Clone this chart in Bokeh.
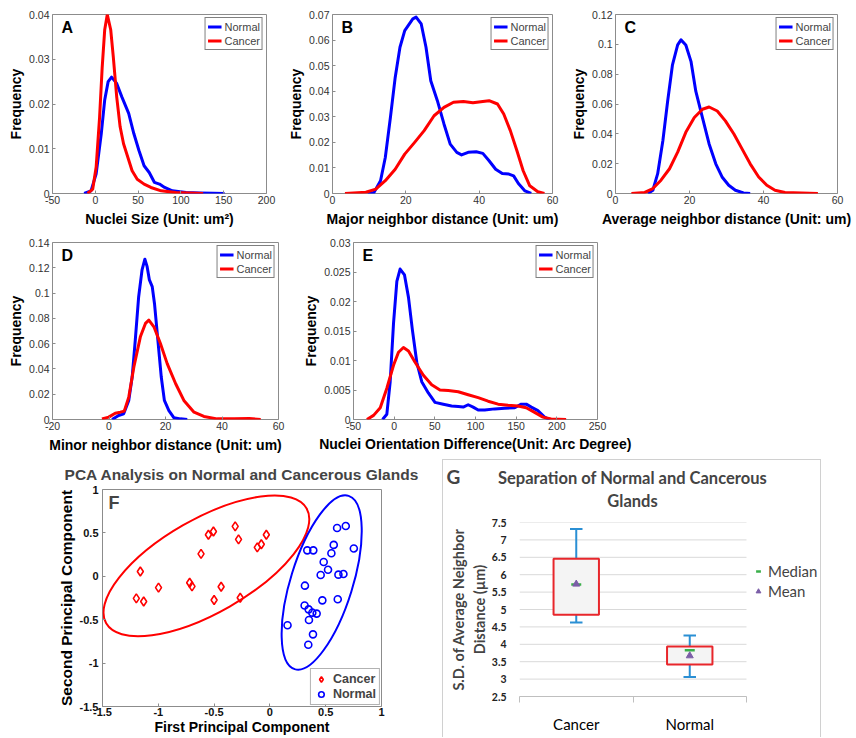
import math
from bokeh.plotting import figure
from bokeh.models import Range1d, FixedTicker, Label, Spacer, Legend, LegendItem
from bokeh.layouts import row, column
from bokeh.embed import file_html
from bokeh.resources import INLINE

# ---------------- data ----------------
A_normal_x = [-13, -5, 1, 7, 11, 15, 19, 25, 31, 39, 45, 51, 57, 63, 69, 75, 81, 90, 106, 122, 138, 151]
A_normal_y = [0, 0.0006, 0.0044, 0.0134, 0.0209, 0.025, 0.026, 0.0246, 0.0216, 0.0179, 0.0134, 0.0096,
              0.0062, 0.0047, 0.0025, 0.0021, 0.00135, 0.0006, 0.0002, 0.0001, 0.00005, 0]
A_cancer_x = [-9, -3, 1, 5, 8, 11, 14, 18, 21, 25, 29, 33, 38, 43, 49, 57, 65, 77, 94, 126]
A_cancer_y = [0, 0.001, 0.0059, 0.017, 0.028, 0.0366, 0.04, 0.0366, 0.0306, 0.0216, 0.0149, 0.0111,
              0.0081, 0.0051, 0.0032, 0.0021, 0.00135, 0.0006, 0.0002, 0]

B_normal_x = [9.6, 11.3, 13.1, 14.4, 15.8, 17.1, 18.4, 19.7, 21.9, 22.8, 24.2, 25.5, 26.8, 28.6, 30.4,
              32.1, 33.9, 35.2, 37, 39.2, 41, 42.7, 44.5, 46.3, 48.1, 49.4, 50.7, 52.5, 54.2]
B_normal_y = [0, 0.0004, 0.005, 0.0141, 0.0298, 0.0454, 0.0572, 0.0637, 0.0683, 0.069, 0.0663, 0.0572,
              0.0441, 0.0363, 0.0272, 0.0193, 0.0161, 0.0151, 0.0161, 0.0163, 0.0157, 0.0128, 0.0095,
              0.0078, 0.0076, 0.0069, 0.0039, 0.001, 0]
B_cancer_x = [3.4, 9.1, 11.8, 14.4, 17.1, 19.7, 22.4, 25, 27.7, 30.4, 33, 35.7, 38.3, 41, 42.7, 45,
              46.7, 48.5, 50.3, 52, 53.8, 56, 57.8]
B_cancer_y = [0, 0.0005, 0.0017, 0.005, 0.0095, 0.0154, 0.02, 0.0246, 0.0304, 0.0337, 0.0357, 0.036,
              0.0355, 0.036, 0.0363, 0.035, 0.0311, 0.0246, 0.0167, 0.0089, 0.003, 0.0007, 0]

C_normal_x = [8.75, 10.1, 11.4, 12.8, 14.1, 15.4, 16.8, 17.7, 19, 20.4, 21.7, 23.5, 25.3, 27.1, 28.8,
              30.6, 32.4, 34.6, 36.4]
C_normal_y = [0, 0.0022, 0.0133, 0.0354, 0.062, 0.0863, 0.0996, 0.103, 0.0996, 0.0886, 0.0686, 0.0509,
              0.0332, 0.0199, 0.0111, 0.0055, 0.0022, 0.0004, 0]
C_cancer_x = [4.3, 7.9, 10.1, 12.3, 14.6, 16.8, 19, 21.3, 23.5, 25.3, 27.5, 29.7, 32, 34.2, 36.4, 38.7,
              40.9, 43.1, 45.8, 50.3, 54.7]
C_cancer_y = [0, 0.0007, 0.0033, 0.0089, 0.0166, 0.0277, 0.041, 0.0509, 0.0565, 0.058, 0.0553, 0.0487,
              0.0399, 0.0299, 0.0199, 0.0111, 0.0055, 0.0022, 0.0007, 0.0004, 0]

D_normal_x = [1.1, 3.4, 5.2, 7, 8.2, 9.3, 10.5, 11.7, 12.7, 13.5, 14.3, 15.3, 16.1, 17.3, 18.5, 19.6,
              21.2, 23, 25.3, 27.7]
D_normal_y = [0, 0.0032, 0.0045, 0.0151, 0.0336, 0.0627, 0.0971, 0.1183, 0.1268, 0.1209, 0.1104, 0.1051,
              0.0918, 0.0627, 0.0336, 0.0151, 0.0071, 0.0013, 0.0005, 0]
D_cancer_x = [-2.5, -0.1, 2.2, 4, 5.4, 7, 8.8, 11.1, 12.9, 14.1, 15.9, 18.2, 20.6, 23.6, 26.5, 30.1,
              33.6, 38.3, 44.3, 49.6, 53.7]
D_cancer_y = [0.0005, 0.0019, 0.005, 0.0058, 0.0066, 0.0177, 0.0415, 0.0654, 0.076, 0.0786, 0.0733,
              0.0601, 0.0442, 0.0283, 0.0151, 0.0058, 0.0024, 0.0005, 0.0005, 0.0008, 0]

E_normal_x = [-14.3, -9, -4.9, -0.8, 3.3, 7.3, 12.7, 17.6, 22.4, 27.8, 33.9, 42, 50.2, 60.4, 70.6, 78.8,
              84.9, 91, 97.1, 103.3, 111.4, 123.7, 135.9, 148.2, 156.3, 162.4, 168.6, 176.7, 184.9, 191]
E_normal_y = [0, 0.0009, 0.0064, 0.0163, 0.0234, 0.0255, 0.0245, 0.0207, 0.0152, 0.0097, 0.0064, 0.0045,
              0.0029, 0.0026, 0.0023, 0.0022, 0.0021, 0.0025, 0.0021, 0.0016, 0.0016, 0.0018, 0.0019,
              0.002, 0.0026, 0.0026, 0.0021, 0.0015, 0.0004, 0]
E_cancer_x = [-33.5, -25.3, -17.1, -9, -0.8, 5.3, 11.4, 17.6, 25.7, 35.9, 46.1, 56.3, 66.5, 78.8, 91,
              103.3, 115.5, 127.8, 140, 152.2, 162.4, 172.7, 182.9, 193, 211.4]
E_cancer_y = [0, 0.0007, 0.002, 0.0053, 0.0092, 0.0114, 0.0122, 0.0116, 0.0097, 0.0075, 0.0059, 0.005,
              0.0049, 0.0047, 0.0042, 0.0037, 0.0031, 0.0026, 0.0024, 0.0023, 0.002, 0.0012, 0.0004,
              0.0001, 0]

# tick values / labels
A_xticks = [-50, 0, 50, 100, 150, 200]
A_xlabels = ["-50", "0", "50", "100", "150", "200"]
A_yticks = [0, 0.01, 0.02, 0.03, 0.04]
A_ylabels = ["0", "0.01", "0.02", "0.03", "0.04"]
B_xticks = [0, 20, 40, 60]
B_xlabels = ["0", "20", "40", "60"]
B_yticks = [0, 0.01, 0.02, 0.03, 0.04, 0.05, 0.06, 0.07]
B_ylabels = ["0", "0.01", "0.02", "0.03", "0.04", "0.05", "0.06", "0.07"]
C_xticks = [0, 20, 40, 60]
C_xlabels = ["0", "20", "40", "60"]
C_yticks = [0, 0.02, 0.04, 0.06, 0.08, 0.1, 0.12]
C_ylabels = ["0", "0.02", "0.04", "0.06", "0.08", "0.1", "0.12"]
D_xticks = [-20, 0, 20, 40, 60]
D_xlabels = ["-20", "0", "20", "40", "60"]
D_yticks = [0, 0.02, 0.04, 0.06, 0.08, 0.1, 0.12, 0.14]
D_ylabels = ["0", "0.02", "0.04", "0.06", "0.08", "0.1", "0.12", "0.14"]
E_xticks = [-50, 0, 50, 100, 150, 200, 250]
E_xlabels = ["-50", "0", "50", "100", "150", "200", "250"]
E_yticks = [0, 0.005, 0.01, 0.015, 0.02, 0.025, 0.03]
E_ylabels = ["0", "0.005", "0.01", "0.015", "0.02", "0.025", "0.03"]

# PCA (panel F)
F_cancer_x = [-1.161, -1.197, -1.131, -0.998, -0.719, -0.698, -0.617, -0.551, -0.506, -0.500, -0.437,
              -0.311, -0.281, -0.266, -0.113, -0.077, -0.032]
F_cancer_y = [0.056, -0.254, -0.291, -0.131, -0.075, -0.116, 0.258, 0.478, 0.516, -0.273, -0.120,
              0.575, 0.426, -0.247, 0.333, 0.370, 0.478]
F_normal_x = [0.158, 0.314, 0.311, 0.335, 0.389, 0.347, 0.350, 0.380, 0.419, 0.386, 0.344, 0.455,
              0.482, 0.470, 0.521, 0.551, 0.572, 0.602, 0.614, 0.608, 0.659, 0.680, 0.752]
F_normal_y = [-0.564, -0.108, -0.336, 0.299, 0.299, -0.381, -0.504, -0.419, -0.430, -0.669, -0.788,
              0.015, 0.164, -0.277, 0.075, 0.265, 0.362, 0.557, 0.019, -0.265, 0.026, 0.579, 0.321]
F_ell_x = [-0.569, 0.464]
F_ell_y = [0.120, -0.071]
F_ell_w = [2.07, 1.626]
F_ell_h = [1.08, 0.715]
F_ell_angle = [0.52, 1.269]
F_ticks = [-1.5, -1, -0.5, 0, 0.5, 1]
F_labels = ["-1.5", "-1", "-0.5", "0", "0.5", "1"]

# Box plot (panel G)
G_cats = ["Cancer", "Normal"]
G_q1 = [4.85, 3.42]
G_q3 = [6.46, 3.94]
G_low = [4.63, 3.06]
G_high = [7.31, 4.25]
G_median = [5.72, 3.83]
G_mean = [5.73, 3.67]
G_yticks = [2.5, 3, 3.5, 4, 4.5, 5, 5.5, 6, 6.5, 7, 7.5]
G_ylabels = ["2.5", "3", "3.5", "4", "4.5", "5", "5.5", "6", "6.5", "7", "7.5"]

# ---------------- style ----------------
FONT = "Liberation Sans"
XL = "Lato"
FRAME = "#8c8c8c"
TICKTXT = "#333333"
BLUE = "#0000ff"
RED = "#ff0000"


def style_axis(ax, ticks, labels, size="10.5px", bold=False, standoff=3):
    ax.ticker = FixedTicker(ticks=ticks)
    ax.major_label_overrides = dict(zip(ticks, labels))
    ax.major_label_text_font = FONT
    ax.major_label_text_font_size = size
    ax.major_label_text_color = "#111111" if bold else TICKTXT
    ax.major_label_text_font_style = "bold" if bold else "normal"
    ax.major_tick_in = 3
    ax.major_tick_out = 0
    ax.major_tick_line_color = FRAME
    ax.minor_tick_line_color = None
    ax.axis_line_color = None
    ax.major_label_standoff = standoff
    ax.axis_label_text_font = FONT
    ax.axis_label_text_font_style = "bold"
    ax.axis_label_text_color = "black"


def make_panel(letter, nx, ny, cx, cy, xt, xtl, yt, ytl, xlabel,
               width, height, mbl, mbr, mbt, mbb, xstand=4):
    p = figure(width=width, height=height,
               x_range=Range1d(xt[0], xt[-1]), y_range=Range1d(yt[0], yt[-1]),
               output_backend="svg", toolbar_location=None,
               min_border_left=mbl, min_border_right=mbr,
               min_border_top=mbt, min_border_bottom=mbb)
    p.grid.visible = False
    p.outline_line_color = FRAME
    p.border_fill_color = "white"
    p.line(nx, ny, line_color=BLUE, line_width=3, legend_label="Normal", line_join="round")
    p.line(cx, cy, line_color=RED, line_width=3, legend_label="Cancer", line_join="round")
    xa, ya = p.xaxis[0], p.yaxis[0]
    style_axis(xa, xt, xtl, standoff=2)
    style_axis(ya, yt, ytl, standoff=3)
    xa.axis_label = xlabel
    ya.axis_label = "Frequency"
    xa.axis_label_text_font_size = "14px"
    ya.axis_label_text_font_size = "14px"
    xa.axis_label_standoff = xstand
    ya.axis_label_standoff = 2
    lg = p.legend[0]
    lg.location = "top_right"
    lg.margin = 3
    lg.padding = 2
    lg.spacing = 1
    lg.label_standoff = 3
    lg.glyph_width = 14
    lg.glyph_height = 13
    lg.label_height = 13
    lg.label_text_font = FONT
    lg.label_text_font_size = "11px"
    lg.border_line_color = "black"
    lg.border_line_width = 1
    lg.background_fill_alpha = 1
    p.add_layout(Label(x=xt[0], y=yt[-1], text=letter, x_offset=9, y_offset=-4,
                       text_baseline="top", text_font=FONT, text_font_style="bold",
                       text_font_size="16px", text_color="black"))
    return p


pA = make_panel("A", A_normal_x, A_normal_y, A_cancer_x, A_cancer_y, A_xticks, A_xlabels,
                A_yticks, A_ylabels, "Nuclei Size (Unit: um\u00b2)", 285, 230, 52, 19, 14, 37)
pB = make_panel("B", B_normal_x, B_normal_y, B_cancer_x, B_cancer_y, B_xticks, B_xlabels,
                B_yticks, B_ylabels, "Major neighbor distance (Unit: um)", 283, 230, 41, 16, 14, 37)
pC = make_panel("C", C_normal_x, C_normal_y, C_cancer_x, C_cancer_y, C_xticks, C_xlabels,
                C_yticks, C_ylabels, "Average neighbor distance (Unit: um)", 287, 230, 44, 18, 14, 37)
pD = make_panel("D", D_normal_x, D_normal_y, D_cancer_x, D_cancer_y, D_xticks, D_xlabels,
                D_yticks, D_ylabels, "Minor neighbor distance (Unit: um)", 300, 225, 52, 22, 12, 35)
pE = make_panel("E", E_normal_x, E_normal_y, E_cancer_x, E_cancer_y, E_xticks, E_xlabels,
                E_yticks, E_ylabels, "Nuclei Orientation Difference(Unit: Arc Degree)",
                340, 225, 52, 43, 12, 35, xstand=3)

# ---------------- panel F ----------------
pF = figure(width=442, height=282, x_range=Range1d(F_ticks[0], F_ticks[-1]),
            y_range=Range1d(F_ticks[0], F_ticks[-1]), output_backend="svg", toolbar_location=None,
            min_border_left=102, min_border_right=61, min_border_top=34, min_border_bottom=30)
pF.grid.visible = False
pF.outline_line_color = FRAME
pF.ellipse(x=F_ell_x, y=F_ell_y, width=F_ell_w, height=F_ell_h, angle=F_ell_angle,
           fill_color=None, line_color=[RED, BLUE], line_width=2)
pF.scatter(F_cancer_x, F_cancer_y, marker="diamond", size=9,
           fill_color=None, line_color=RED, line_width=1.6, legend_label="Cancer")
pF.scatter(F_normal_x, F_normal_y, marker="circle", size=7, fill_color=None,
           line_color=BLUE, line_width=1.6, legend_label="Normal")
style_axis(pF.xaxis[0], F_ticks, F_labels, size="11px", bold=True, standoff=1)
style_axis(pF.yaxis[0], F_ticks, F_labels, size="11px", bold=True, standoff=4)
pF.yaxis[0].axis_label = "Second Principal Component"
pF.yaxis[0].axis_label_text_font_size = "15.5px"
pF.yaxis[0].axis_label_standoff = 2
pF.xaxis[0].axis_label = "First Principal Component"
pF.xaxis[0].axis_label_text_font_size = "14px"
pF.xaxis[0].axis_label_standoff = 0
pF.title.text = "PCA Analysis on Normal and Cancerous Glands"
pF.title.align = "center"
pF.title.text_font = FONT
pF.title.text_font_size = "15.5px"
pF.title.text_font_style = "bold"
pF.title.standoff = 14
lgF = pF.legend[0]
lgF.location = "bottom_right"
lgF.margin = 1
lgF.padding = 3
lgF.spacing = 1
lgF.glyph_width = 14
lgF.glyph_height = 14
lgF.label_height = 14
lgF.label_standoff = 5
lgF.label_text_font = FONT
lgF.label_text_font_style = "bold"
lgF.label_text_font_size = "12.5px"
lgF.border_line_color = "#666666"
pF.add_layout(Label(x=F_ticks[0], y=F_ticks[-1], text="F", x_offset=6, y_offset=-3,
                    text_baseline="top", text_font=FONT, text_font_style="bold",
                    text_font_size="18px"))

# ---------------- panel G ----------------
BOXLINE = "#d0d0d0"
G_W = 379
HDR_H = 56
hdr = figure(width=G_W, height=HDR_H, x_range=Range1d(0, G_W), y_range=Range1d(0, HDR_H),
             x_axis_type=None, y_axis_type=None, output_backend="svg", toolbar_location=None,
             min_border=0)
hdr.outline_line_color = None
hdr.background_fill_alpha = 0
hdr.border_fill_alpha = 0
hdr.grid.visible = False
hdr.styles = {"box-shadow": f"inset 1px 1px 0 {BOXLINE}, inset -1px 0 0 {BOXLINE}"}
hdr.add_layout(Label(x=11, y=39, text="G", text_align="center", text_baseline="middle",
                     text_font=XL, text_font_style="bold", text_font_size="19px"))
hdr.add_layout(Label(x=190, y=38, text="Separation of Normal and Cancerous", text_align="center",
                     text_baseline="middle", text_font=XL, text_font_style="bold",
                     text_font_size="16.5px"))
hdr.add_layout(Label(x=190, y=15, text="Glands", text_align="center", text_baseline="middle",
                     text_font=XL, text_font_style="bold", text_font_size="16.5px"))

G_pos = [i + 0.5 for i in range(len(G_cats))]
G_bounds = list(range(len(G_cats) + 1))
cap = 0.055
G_LEFT = 77          # left border (px)
G_PLOT_PX = 227      # width of the category area (px)
G_FRAME_PX = G_W - G_LEFT - 1   # frame also holds the legend area to the right
g_xend = G_bounds[-1] * G_FRAME_PX / G_PLOT_PX
pG = figure(width=G_W, height=222, x_range=Range1d(G_bounds[0], g_xend),
            y_range=Range1d(G_yticks[0], G_yticks[-1]), output_backend="svg",
            toolbar_location=None, min_border_left=G_LEFT, min_border_right=1,
            min_border_top=7, min_border_bottom=41)
pG.styles = {"box-shadow": f"inset 1px 0 0 {BOXLINE}, inset -1px 0 0 {BOXLINE}"}
pG.border_fill_alpha = 0
pG.background_fill_alpha = 0
pG.outline_line_color = None
pG.grid.visible = False
# horizontal gridlines over the category area only
pG.segment(x0=[G_bounds[0]] * len(G_yticks), y0=G_yticks,
           x1=[G_bounds[-1]] * len(G_yticks), y1=G_yticks, line_color="#d9d9d9", line_width=1)
WH = "#2a8fd4"
pG.segment(G_pos, G_q3, G_pos, G_high, line_color=WH, line_width=2)
pG.segment(G_pos, G_low, G_pos, G_q1, line_color=WH, line_width=2)
pG.segment([x - cap for x in G_pos], G_high, [x + cap for x in G_pos], G_high, line_color=WH, line_width=2)
pG.segment([x - cap for x in G_pos], G_low, [x + cap for x in G_pos], G_low, line_color=WH, line_width=2)
pG.vbar(x=G_pos, width=0.4, bottom=G_q1, top=G_q3, fill_color="#f4f4f4",
        line_color="#e8262b", line_width=2)
r_med = pG.scatter(G_pos, G_median, marker="dash", size=10, line_color="#3aaf4a", line_width=2.5)
r_mean = pG.scatter(G_pos, G_mean, marker="triangle", size=7, fill_color="#7b5ea7",
                    line_color="#7b5ea7")
gx = pG.xaxis[0]
gx.bounds = (G_bounds[0], G_bounds[-1])
gx.ticker = FixedTicker(ticks=G_pos, minor_ticks=G_bounds)
gx.major_label_overrides = dict(zip(G_pos, G_cats))
gx.major_label_text_font = XL
gx.major_label_text_font_size = "15px"
gx.major_label_text_color = "black"
gx.major_tick_in = 0
gx.major_tick_out = 0
gx.minor_tick_in = 0
gx.minor_tick_out = 6
gx.minor_tick_line_color = "#bfbfbf"
gx.axis_line_color = "#bfbfbf"
gx.major_label_standoff = 12
gy = pG.yaxis[0]
gy.ticker = FixedTicker(ticks=G_yticks)
gy.major_label_overrides = dict(zip(G_yticks, G_ylabels))
gy.major_label_text_font = XL
gy.major_label_text_font_style = "bold"
gy.major_label_text_font_size = "10.5px"
gy.major_label_text_color = "#222222"
gy.major_tick_line_color = None
gy.minor_tick_line_color = None
gy.axis_line_color = None
gy.major_label_standoff = 7
gy.axis_label = "S.D. of Average Neighbor\nDistance (\u00b5m)"
gy.axis_label_text_font = XL
gy.axis_label_text_font_style = "bold"
gy.axis_label_text_font_size = "14.5px"
gy.axis_label_standoff = 1
lgG = Legend(items=[LegendItem(label="Median", renderers=[r_med]),
                    LegendItem(label="Mean", renderers=[r_mean])],
             location=(G_PLOT_PX + 6, 95), padding=0, margin=0, spacing=0, glyph_width=12,
             glyph_height=20, label_height=20, label_standoff=4, label_text_font=XL,
             label_text_font_size="15px", border_line_color=None, background_fill_alpha=0)
pG.add_layout(lgG)

layout = column(
    row(pA, pB, pC, spacing=0),
    row(pD, pE, spacing=0),
    row(pF, column(Spacer(width=G_W, height=4), row(hdr, spacing=0), pG, spacing=0), spacing=0),
    spacing=0,
)

open("out.html", "w").write(file_html(layout, INLINE))
